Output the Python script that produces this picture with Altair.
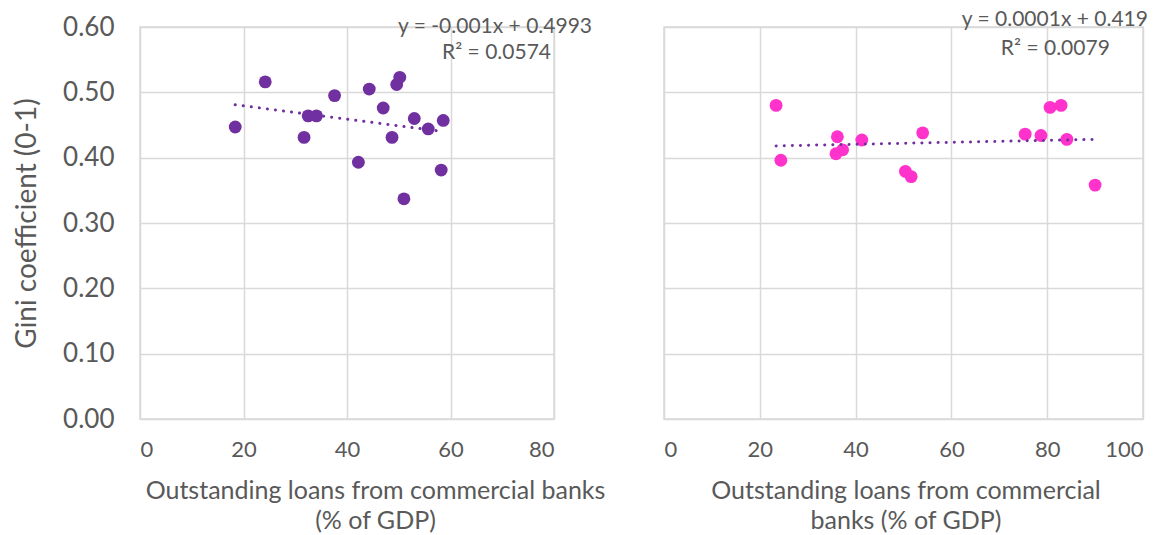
import altair as alt
import pandas as pd

# Left panel data
left_x = [18.4, 24.2, 31.7, 32.5, 34.1, 37.6, 42.2, 44.3, 47.0, 48.7, 49.6, 50.2, 51.0, 53.0, 55.7, 58.2, 58.6]
left_y = [0.447, 0.516, 0.431, 0.464, 0.464, 0.495, 0.393, 0.505, 0.476, 0.431, 0.512, 0.523, 0.337, 0.460, 0.444, 0.381, 0.457]
left_trend_x = [18.4, 58.6]
left_trend_y = [0.481, 0.440]

# Right panel data
right_x = [23.4, 24.4, 36.2, 35.9, 37.3, 41.3, 50.4, 51.6, 54.0, 75.4, 78.7, 80.6, 82.9, 84.1, 90.0]
right_y = [0.480, 0.396, 0.432, 0.406, 0.412, 0.427, 0.379, 0.371, 0.438, 0.436, 0.434, 0.477, 0.480, 0.428, 0.358]
right_trend_x = [23.4, 90.0]
right_trend_y = [0.418, 0.428]

left_eq = ["y = -0.001x + 0.4993", "R² = 0.0574"]
left_eq_x = [68.6, 68.9]
left_eq_y = [0.600, 0.560]
right_eq = ["y = 0.0001x + 0.419", "R² = 0.0079"]
right_eq_x = [81.6, 81.7]
right_eq_y = [0.610, 0.566]

FONT = "Lato"
GRID = "#D9D9D9"
TEXT = "#595959"
PURPLE = "#7030A0"
MAGENTA = "#FF33CC"


def panel(xs, ys, tx, ty, eq, ex, ey, color, xmax, xtitle, width, show_y, title_shift):
    pts = pd.DataFrame({"x": xs, "y": ys})
    tr = pd.DataFrame({"x": tx, "y": ty})
    lab = pd.DataFrame({"x": ex, "y": ey, "t": eq})
    xscale = alt.Scale(domain=[0, xmax], nice=False)
    yscale = alt.Scale(domain=[0, 0.6], nice=False)
    xaxis = alt.Axis(values=list(range(0, xmax + 1, 20)), title=xtitle, grid=True,
                     gridColor=GRID, gridWidth=1.5, domain=False, ticks=False,
                     labelFont=FONT, labelFontSize=22, labelColor=TEXT, labelPadding=20,
                     titleFont=FONT, titleFontSize=25, titleFontWeight="normal",
                     titleColor=TEXT, titlePadding=18, titleLineHeight=30,
                     titleX=width / 2 + title_shift)
    if show_y:
        yaxis = alt.Axis(values=[0, 0.1, 0.2, 0.3, 0.4, 0.5, 0.6], format=".2f",
                         title="Gini coefficient (0-1)", grid=True, gridColor=GRID,
                         gridWidth=1.5, domain=False, ticks=False,
                         labelFont=FONT, labelFontSize=26, labelColor=TEXT,
                         labelPadding=26, titleFont=FONT, titleFontSize=28,
                         titleFontWeight="normal", titleColor=TEXT, titlePadding=21)
    else:
        yaxis = alt.Axis(values=[0, 0.1, 0.2, 0.3, 0.4, 0.5, 0.6], labels=False,
                         title=None, grid=True, gridColor=GRID, gridWidth=1.5,
                         domain=False, ticks=False)
    p = alt.Chart(pts).mark_circle(size=165, opacity=1, color=color).encode(
        x=alt.X("x:Q", scale=xscale, axis=xaxis),
        y=alt.Y("y:Q", scale=yscale, axis=yaxis),
    )
    t = alt.Chart(tr).mark_line(color=PURPLE, strokeWidth=3, strokeDash=[0.1, 8],
                                strokeCap="round").encode(
        x=alt.X("x:Q", scale=xscale), y=alt.Y("y:Q", scale=yscale))
    txt = alt.Chart(lab).mark_text(font=FONT, fontSize=21, color=TEXT,
                                   align="center", baseline="middle").encode(
        x=alt.X("x:Q", scale=xscale), y=alt.Y("y:Q", scale=yscale), text="t:N")
    return alt.layer(p, t, txt).properties(width=width, height=392)


left = panel(left_x, left_y, left_trend_x, left_trend_y, left_eq, left_eq_x, left_eq_y,
             PURPLE, 80, ["Outstanding loans from commercial banks", "(% of GDP)"], 414, True, 28)
right = panel(right_x, right_y, right_trend_x, right_trend_y, right_eq, right_eq_x, right_eq_y,
              MAGENTA, 100, ["Outstanding loans from commercial", "banks (% of GDP)"], 479, False, 2)

chart = alt.hconcat(left, right, spacing=110, bounds="flush").properties(
    padding={"left": 12, "top": 8, "right": 10, "bottom": 2},
    background="white",
).configure_view(stroke=GRID, strokeWidth=1.5)

chart.save("out.html", embed_options={"renderer": "svg", "actions": False})
